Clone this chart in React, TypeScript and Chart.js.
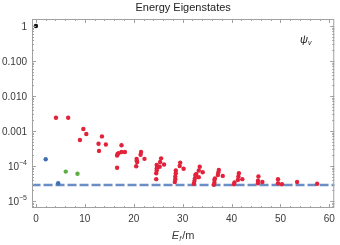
import React, { useEffect, useRef } from "react";
import { Chart, registerables } from "chart.js";
Chart.register(...registerables);

const chartTitle = "Energy Eigenstates";
const xMin = -0.8;
const xMax = 61;
const yMin = 6.3e-6;
const yMax = 1.585;
const xTickValues = [0, 10, 20, 30, 40, 50, 60];
const yTickValues = [1, 0.1, 0.01, 0.001, 1e-4, 1e-5];
const yTickBases = ["1", "0.100", "0.010", "0.001", "10", "10"];
const yTickExps = ["", "", "", "", "\u22124", "\u22125"];
const thresholdY = 2.85e-5;

const blackX = [0];
const blackY = [1];
const blueX = [2.0, 4.55];
const blueY = [1.55e-4, 3.2e-5];
const greenX = [6.1, 8.5];
const greenY = [6.9e-5, 6.0e-5];
const redX = [
  4.1, 6.6,
  9.0, 9.7, 10.3,
  12.8, 12.9, 13.5, 14.3,
  16.6, 16.6, 16.7, 16.9, 17.5, 17.5, 18.2,
  20.5, 20.6, 20.7, 20.6, 21.4, 21.5, 22.2,
  24.6, 24.6, 24.7, 24.7, 24.7, 24.8, 25.3, 25.4, 25.6, 26.2,
  28.4, 28.5, 28.5, 28.6, 28.6, 29.4, 29.5, 30.2,
  32.3, 32.4, 32.5, 32.6, 32.8, 33.3, 33.3, 33.5, 34.1,
  36.4, 36.5, 36.5, 36.6, 37.2, 37.3, 37.4, 38.2,
  40.5, 40.6, 41.3, 41.4, 41.5, 42.2,
  45.4, 45.4, 45.5, 46.3,
  49.5, 49.5, 50.3,
  53.4,
  57.5,
];
const redY = [
  2.4e-3, 2.4e-3,
  5.5e-4, 1.14e-3, 8.2e-4,
  4.3e-4, 2.7e-4, 7.0e-4, 4.1e-4,
  8.9e-5, 2.0e-4, 2.2e-4, 2.3e-4, 3.9e-4, 2.5e-4, 2.5e-4,
  9.8e-5, 1.6e-4, 1.3e-4, 1.4e-4, 2.1e-4, 2.5e-4, 1.6e-4,
  4.2e-5, 6.2e-5, 7.4e-5, 8.5e-5, 1.07e-4, 9.5e-5, 9.5e-5, 1.3e-4, 1.65e-4, 1.1e-4,
  3.5e-5, 4.2e-5, 5.0e-5, 6.2e-5, 7.4e-5, 1.0e-4, 1.25e-4, 8.3e-5,
  3.1e-5, 3.7e-5, 4.4e-5, 5.5e-5, 5.9e-5, 4.8e-5, 7.4e-5, 9.5e-5, 6.6e-5,
  2.9e-5, 3.3e-5, 4.0e-5, 4.4e-5, 5.5e-5, 6.5e-5, 7.7e-5, 5.2e-5,
  3.0e-5, 3.4e-5, 4.0e-5, 5.0e-5, 6.2e-5, 4.2e-5,
  3.2e-5, 3.8e-5, 5.0e-5, 3.5e-5,
  3.2e-5, 4.2e-5, 3.0e-5,
  3.5e-5,
  3.1e-5,
];

const FONT = "'Liberation Sans', Arial, sans-serif";
const LABEL_COLOR = "#3a3a3a";
const FRAME_COLOR = "#a0a0a0";

const toPts = (xs: number[], ys: number[]) => xs.map((x, i) => ({ x, y: ys[i] }));

const framePlugin = {
  id: "frameDecor",
  afterDraw(chart: any) {
    const { ctx, chartArea } = chart;
    const { left, right, top, bottom } = chartArea;
    const xs = chart.scales.x;
    const ys = chart.scales.y;
    ctx.save();
    ctx.strokeStyle = FRAME_COLOR;
    ctx.lineWidth = 1;
    ctx.strokeRect(left + 0.5, top + 0.5, right - left - 1, bottom - top - 1);
    ctx.beginPath();
    for (let v = 0; v <= 60; v += 2) {
      const px = Math.round(xs.getPixelForValue(v)) + 0.5;
      const len = v % 10 === 0 ? 4 : 2;
      ctx.moveTo(px, bottom);
      ctx.lineTo(px, bottom - len);
      ctx.moveTo(px, top);
      ctx.lineTo(px, top + len);
    }
    for (let e = -6; e <= 0; e++) {
      for (let m = 1; m <= 9; m++) {
        const v = m * Math.pow(10, e);
        if (v < yMin || v > yMax) continue;
        const py = Math.round(ys.getPixelForValue(v)) + 0.5;
        const len = m === 1 ? 4 : 2;
        ctx.moveTo(left, py);
        ctx.lineTo(left + len, py);
        ctx.moveTo(right, py);
        ctx.lineTo(right - len, py);
      }
    }
    ctx.stroke();

    ctx.fillStyle = LABEL_COLOR;
    ctx.textBaseline = "middle";
    yTickValues.forEach((v, i) => {
      const py = ys.getPixelForValue(v);
      const base = yTickBases[i];
      const exp = yTickExps[i];
      const xr = left - 5;
      ctx.font = `10px ${FONT}`;
      const bw = ctx.measureText(base).width;
      let ew = 0;
      if (exp) {
        ctx.font = `7px ${FONT}`;
        ew = ctx.measureText(exp).width;
      }
      ctx.font = `10px ${FONT}`;
      ctx.textAlign = "left";
      ctx.fillText(base, xr - bw - ew, py + 1);
      if (exp) {
        ctx.font = `7px ${FONT}`;
        ctx.fillText(exp, xr - ew, py - 3);
      }
    });

    ctx.fillStyle = "#222";
    ctx.font = `11px ${FONT}`;
    ctx.textAlign = "center";
    ctx.textBaseline = "middle";
    ctx.fillText(chartTitle, (left + right) / 2, 8);

    const cx = (left + right) / 2;
    const cy = 236;
    ctx.textAlign = "left";
    ctx.font = `italic 11px ${FONT}`;
    const wE = ctx.measureText("E").width;
    ctx.font = `italic 7px ${FONT}`;
    const wf = ctx.measureText("f").width;
    ctx.font = `11px ${FONT}`;
    const wm = ctx.measureText("/m").width;
    let x0 = cx - (wE + wf + 1 + wm) / 2;
    ctx.fillStyle = LABEL_COLOR;
    ctx.font = `italic 11px ${FONT}`;
    ctx.fillText("E", x0, cy);
    x0 += wE;
    ctx.font = `italic 7px ${FONT}`;
    ctx.fillText("f", x0, cy + 3);
    x0 += wf + 1;
    ctx.font = `11px ${FONT}`;
    ctx.fillText("/m", x0, cy);

    ctx.fillStyle = "#222";
    ctx.font = `italic 11px ${FONT}`;
    ctx.fillText("\u03C8", 300, 40);
    const wp = ctx.measureText("\u03C8").width;
    ctx.font = `italic 7px ${FONT}`;
    ctx.fillText("v", 300 + wp, 43);
    ctx.restore();
  },
};

export default function App() {
  const ref = useRef<HTMLCanvasElement | null>(null);
  useEffect(() => {
    if (!ref.current) return;
    const pt = (color: string, data: any[]) => ({
      type: "scatter" as const,
      data,
      backgroundColor: color,
      borderWidth: 0,
      pointRadius: 2.2,
      pointHoverRadius: 2.2,
      order: 0,
    });
    const chart = new Chart(ref.current, {
      type: "scatter",
      data: {
        datasets: [
          pt("#111111", toPts(blackX, blackY)),
          pt("#3f6fb0", toPts(blueX, blueY)),
          pt("#5fae45", toPts(greenX, greenY)),
          pt("#e2223a", toPts(redX, redY)),
          {
            type: "line" as const,
            data: [
              { x: xMin - 5, y: thresholdY },
              { x: xMax + 5, y: thresholdY },
            ],
            borderColor: "rgba(100,136,195,0.95)",
            borderWidth: 2.5,
            borderDash: [9, 3],
            pointRadius: 0,
            fill: false,
            order: 10,
          } as any,
        ],
      },
      options: {
        animation: false,
        responsive: false,
        maintainAspectRatio: false,
        layout: { padding: { top: 19, right: 5, left: 0, bottom: 0 } },
        plugins: {
          legend: { display: false },
          tooltip: { enabled: false },
          title: { display: false },
        },
        scales: {
          x: {
            type: "linear",
            min: xMin,
            max: xMax,
            grid: { display: false, drawTicks: false },
            border: { display: false },
            afterBuildTicks: (s: any) => {
              s.ticks = xTickValues.map((v) => ({ value: v }));
            },
            afterFit: (s: any) => {
              s.height = 37;
            },
            ticks: {
              padding: 5,
              color: LABEL_COLOR,
              font: { family: FONT, size: 10 },
              maxRotation: 0,
              autoSkip: false,
              callback: (v: any) => String(v),
            },
          },
          y: {
            type: "logarithmic",
            min: yMin,
            max: yMax,
            grid: { display: false, drawTicks: false },
            border: { display: false },
            afterBuildTicks: (s: any) => {
              s.ticks = yTickValues.map((v) => ({ value: v }));
            },
            afterFit: (s: any) => {
              s.width = 32;
            },
            ticks: { display: false },
          },
        },
      },
      plugins: [framePlugin],
    });
    return () => chart.destroy();
  }, []);
  return (
    <div style={{ position: "absolute", left: 0, top: 0, width: 340, height: 245, background: "#fff" }}>
      <canvas ref={ref} width={340} height={245} style={{ width: 340, height: 245, display: "block" }} />
    </div>
  );
}
